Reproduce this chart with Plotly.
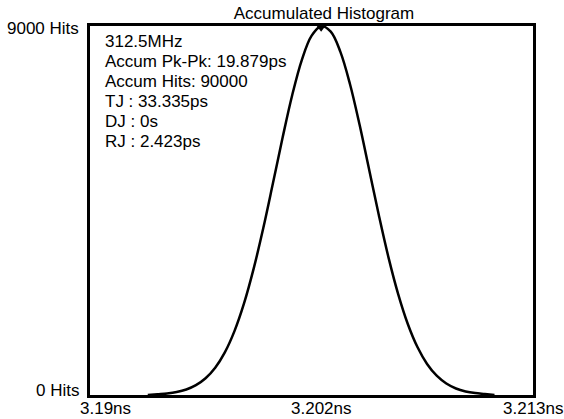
import plotly.graph_objects as go

# Time axis (ns) and accumulated hits
time_ns = [3.1930, 3.1935, 3.1940, 3.1945, 3.1950, 3.1955, 3.1960, 3.1965, 3.1970,
           3.1975, 3.1980, 3.1985, 3.1990, 3.1995, 3.2000, 3.2005, 3.2010, 3.2015,
           3.2020, 3.2025, 3.2030, 3.2035, 3.2040, 3.2045, 3.2050, 3.2055, 3.2060,
           3.2065, 3.2070, 3.2075, 3.2080, 3.2085, 3.2090, 3.2095, 3.2100, 3.2105,
           3.2110]
hits = [0, 19, 38, 73, 135, 240, 408, 665, 1039,
        1558, 2239, 3087, 4078, 5168, 6279, 7317, 8175, 8758,
        8996, 8861, 8369, 7580, 6583, 5481, 4377, 3351, 2461,
        1732, 1169, 757, 470, 280, 159, 87, 46, 23,
        0]

x_tick_vals = [3.19, 3.202, 3.213]
x_tick_text = ["3.19ns", "3.202ns", "3.213ns"]
y_tick_vals = [0, 9000]
y_tick_text = ["0 Hits", "9000 Hits"]

info_lines = ["312.5MHz", "Accum Pk-Pk: 19.879ps", "Accum Hits: 90000",
              "TJ : 33.335ps", "DJ : 0s", "RJ : 2.423ps"]
title_text = "Accumulated Histogram"

FONT = "Liberation Sans, Arial, sans-serif"
FS = 17

fig = go.Figure()
fig.add_trace(go.Scatter(x=time_ns, y=hits, mode="lines",
                         line=dict(color="black", width=2.5, shape="spline"),
                         showlegend=False, hoverinfo="skip"))
peak_i = hits.index(max(hits))
fig.add_trace(go.Scatter(x=[time_ns[peak_i]], y=[hits[peak_i]], mode="markers",
                         marker=dict(symbol="triangle-down", size=11, color="black"),
                         showlegend=False, hoverinfo="skip"))

annotations = []
for i, line in enumerate(info_lines):
    annotations.append(dict(text=line, xref="paper", yref="paper", x=0.0293, y=1,
                            xanchor="left", yanchor="middle", yshift=-(15 + 20 * i),
                            showarrow=False, font=dict(family=FONT, size=FS, color="black")))

x_shifts = [15, 0, 0]
for v, t, s in zip(x_tick_vals, x_tick_text, x_shifts):
    annotations.append(dict(text=t, xref="x", yref="paper", x=v, y=0, xanchor="center",
                            yanchor="middle", xshift=s, yshift=-13, showarrow=False,
                            font=dict(family=FONT, size=FS, color="black")))

y_shifts = [5, -2]
for v, t, s in zip(y_tick_vals, y_tick_text, y_shifts):
    annotations.append(dict(text=t, xref="paper", yref="y", x=0, y=v, xanchor="right",
                            yanchor="middle", xshift=-9, yshift=s, showarrow=False,
                            font=dict(family=FONT, size=FS, color="black")))

fig.update_layout(
    width=564, height=419,
    margin=dict(l=90, r=31, t=26, b=24),
    paper_bgcolor="white", plot_bgcolor="white",
    title=dict(text=title_text, x=324 / 564, xanchor="center",
               y=1 - 13 / 419, yanchor="middle",
               font=dict(family=FONT, size=FS, color="black")),
    xaxis=dict(range=[3.19, 3.213], showgrid=False, zeroline=False,
               showline=True, mirror=True, linecolor="black", linewidth=3,
               showticklabels=False, ticks=""),
    yaxis=dict(range=[0, 9000], showgrid=False, zeroline=False,
               showline=True, mirror=True, linecolor="black", linewidth=3,
               showticklabels=False, ticks=""),
    annotations=annotations,
    showlegend=False,
)

fig.write_html("out.html",
               config={"displayModeBar": False, "staticPlot": True},
               post_script="document.body.style.margin='0';document.body.style.padding='0';"
                           "document.body.style.overflow='hidden';")
